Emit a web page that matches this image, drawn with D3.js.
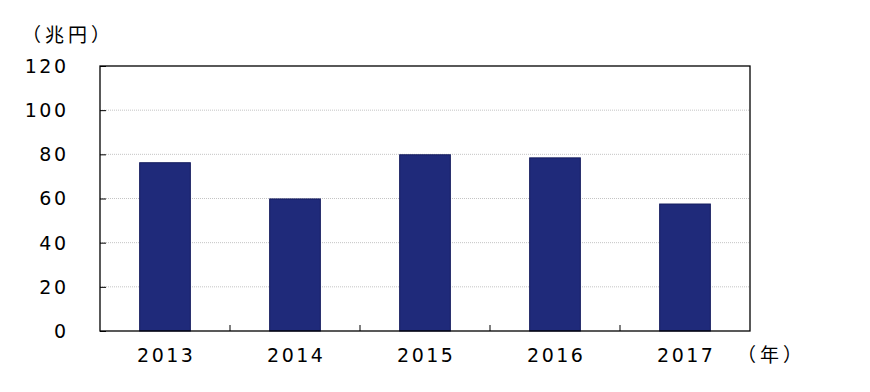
<!DOCTYPE html>
<html><head><meta charset="utf-8">
<script src="https://cdn.jsdelivr.net/npm/d3@7"></script>
<style>body{margin:0;background:#fff}svg{display:block}text{font-family:"Noto Sans CJK JP","DejaVu Sans",sans-serif;fill:#000}text.num{font-family:"DejaVu Sans",sans-serif}</style>
</head><body><svg id="c" width="870" height="392"></svg>
<script>
const categories = ["2013","2014","2015","2016","2017"];
const values = [76.2, 59.8, 79.8, 78.4, 57.5];
const yTicks = [0,20,40,60,80,100,120];
const yUnit = "（兆円）";
const xUnit = "（年）";

const svg = d3.select("#c");
const m = {l:100, r:750, t:66, b:331};
const x = d3.scaleBand().domain(categories).range([m.l, m.r]).paddingInner(0.61).paddingOuter(0.305);
const xb = d3.scaleBand().domain(categories).range([m.l, m.r]);
const y = d3.scaleLinear().domain([0,120]).range([m.b, m.t]);
const LS = 2.5;

// grid
svg.append("g").selectAll("line").data(yTicks.filter(d=>d>0&&d<120)).join("line")
  .attr("x1", m.l).attr("x2", m.r).attr("y1", d=>y(d)).attr("y2", d=>y(d))
  .attr("stroke","#c4c4c4").attr("stroke-width",1).attr("stroke-dasharray","1,1");

// bars
svg.append("g").selectAll("rect").data(categories).join("rect")
  .attr("x", d=>x(d)).attr("width", x.bandwidth())
  .attr("y", (d,i)=>y(values[i])).attr("height", (d,i)=>y(0)-y(values[i]))
  .attr("fill","#1f2a7a").attr("stroke","#141c5e").attr("stroke-width",1);

// frame
svg.append("rect").attr("x",m.l).attr("y",m.t).attr("width",m.r-m.l).attr("height",m.b-m.t)
  .attr("fill","none").attr("stroke","#000").attr("stroke-width",1.3);

// y axis
const ya = d3.axisRight(y).tickValues(yTicks).tickSize(6).tickFormat("");
svg.append("g").attr("transform",`translate(${m.l},0)`).call(ya).call(g=>{g.select(".domain").remove();g.selectAll("line").attr("stroke","#000");});
svg.append("g").selectAll("text").data(yTicks).join("text").attr("class","num")
  .attr("x", 66+LS).attr("y", d=>y(d)).attr("dy","0.36em").attr("text-anchor","end")
  .attr("font-size",19).attr("letter-spacing",LS+"px").text(d=>d);

// x axis ticks at boundaries
const bounds = categories.slice(1).map(c=>xb(c));
svg.append("g").selectAll("line").data(bounds).join("line")
  .attr("x1",d=>d).attr("x2",d=>d).attr("y1",m.b).attr("y2",m.b-6).attr("stroke","#000");
svg.append("g").selectAll("text").data(categories).join("text").attr("class","num")
  .attr("x", d=>xb(d)+xb.bandwidth()/2+LS/2).attr("y", 355).attr("dy","0.36em").attr("text-anchor","middle")
  .attr("font-size",19).attr("letter-spacing",LS+"px").text(d=>d);

svg.append("text").attr("x",22).attr("y",35).attr("dy","0.36em").attr("font-size",19).attr("letter-spacing","4px").text(yUnit);
svg.append("text").attr("x",737).attr("y",355).attr("dy","0.36em").attr("font-size",19).attr("letter-spacing","4px").text(xUnit);
</script></body></html>
